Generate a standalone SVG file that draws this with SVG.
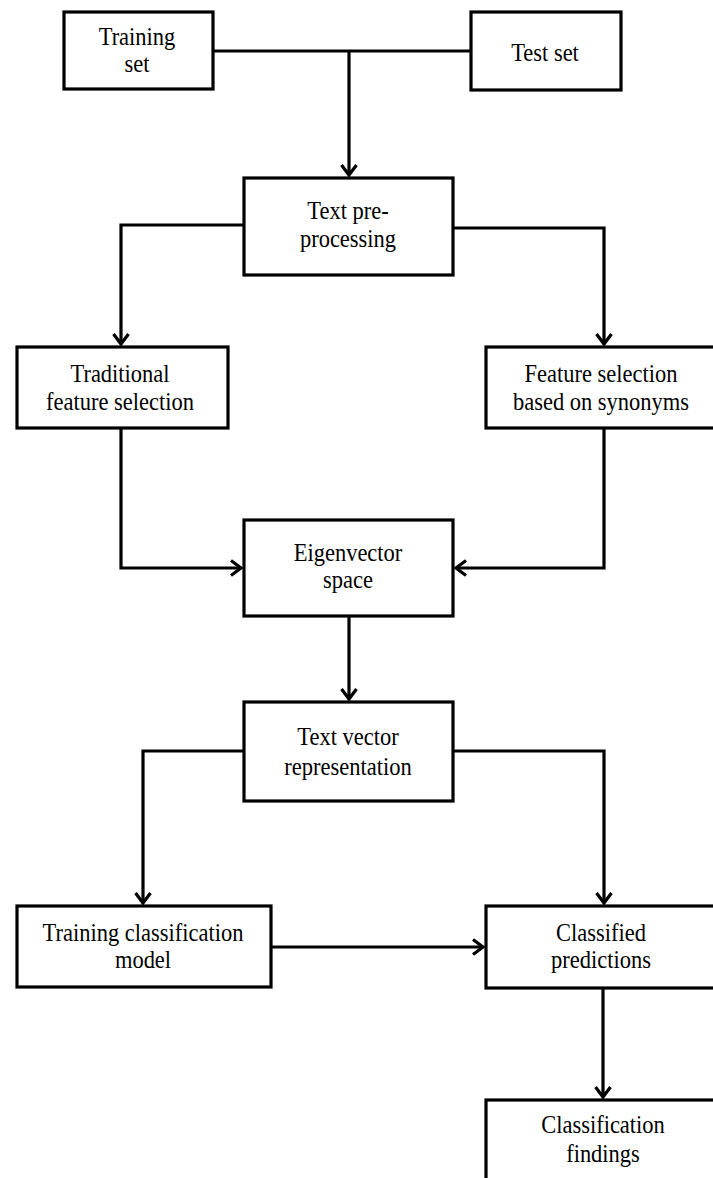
<svg xmlns="http://www.w3.org/2000/svg" width="713" height="1178" viewBox="0 0 713 1178">
<style>
.box{fill:#fff;stroke:#000;stroke-width:3.2}
.ln{fill:none;stroke:#000;stroke-width:3.2;stroke-linejoin:miter}
.t{font-family:'Liberation Serif','Times New Roman',Times,serif;font-size:25px;fill:#000;text-anchor:middle}
</style>
<defs>
<marker id="ah" markerUnits="userSpaceOnUse" markerWidth="20" markerHeight="20" viewBox="-12 -10 14 20" refX="0" refY="0" orient="auto">
<path d="M-10,-7.5 L0,0 L-10,7.5" fill="none" stroke="#000" stroke-width="3.2"/>
</marker>
</defs>
<rect width="713" height="1178" fill="#fff"/>
<g id="connectors">
<path class="ln" d="M213,51 H471"/>
<path class="ln" d="M349,51 V175" marker-end="url(#ah)"/>
<path class="ln" d="M244,225 H121 V344" marker-end="url(#ah)"/>
<path class="ln" d="M453,228 H604 V344" marker-end="url(#ah)"/>
<path class="ln" d="M121,428 V568 H241" marker-end="url(#ah)"/>
<path class="ln" d="M604,428 V568 H456" marker-end="url(#ah)"/>
<path class="ln" d="M349,616 V699" marker-end="url(#ah)"/>
<path class="ln" d="M244,751 H143 V903" marker-end="url(#ah)"/>
<path class="ln" d="M453,751 H604 V903" marker-end="url(#ah)"/>
<path class="ln" d="M271,947 H483" marker-end="url(#ah)"/>
<path class="ln" d="M603,988 V1097" marker-end="url(#ah)"/>
</g>
<g id="n-training-set">
<rect class="box" x="64" y="12" width="149" height="77"/>
<g transform="translate(137,0) scale(0.9,1)"><text class="t" x="0" y="45">Training</text><text class="t" x="0" y="72">set</text></g>
</g>
<g id="n-test-set">
<rect class="box" x="471" y="12" width="150" height="78"/>
<g transform="translate(545,0) scale(0.9,1)"><text class="t" x="0" y="61">Test set</text></g>
</g>
<g id="n-preprocessing">
<rect class="box" x="244" y="178" width="209" height="97"/>
<g transform="translate(348,0) scale(0.9,1)"><text class="t" x="0" y="219">Text pre-</text><text class="t" x="0" y="247">processing</text></g>
</g>
<g id="n-traditional">
<rect class="box" x="17" y="347" width="211" height="81"/>
<g transform="translate(120,0) scale(0.9,1)"><text class="t" x="0" y="382">Traditional</text><text class="t" x="0" y="410">feature selection</text></g>
</g>
<g id="n-synonyms">
<rect class="box" x="486" y="347" width="240" height="81"/>
<g transform="translate(601,0) scale(0.9,1)"><text class="t" x="0" y="382">Feature selection</text><text class="t" x="0" y="410">based on synonyms</text></g>
</g>
<g id="n-eigenvector">
<rect class="box" x="244" y="520" width="209" height="96"/>
<g transform="translate(348,0) scale(0.9,1)"><text class="t" x="0" y="561">Eigenvector</text><text class="t" x="0" y="588">space</text></g>
</g>
<g id="n-text-vector">
<rect class="box" x="244" y="702" width="209" height="99"/>
<g transform="translate(348,0) scale(0.9,1)"><text class="t" x="0" y="745">Text vector</text><text class="t" x="0" y="775">representation</text></g>
</g>
<g id="n-training-model">
<rect class="box" x="17" y="906" width="254" height="81"/>
<g transform="translate(143,0) scale(0.9,1)"><text class="t" x="0" y="941">Training classification</text><text class="t" x="0" y="968">model</text></g>
</g>
<g id="n-classified">
<rect class="box" x="486" y="906" width="240" height="82"/>
<g transform="translate(601,0) scale(0.9,1)"><text class="t" x="0" y="941">Classified</text><text class="t" x="0" y="968">predictions</text></g>
</g>
<g id="n-findings">
<rect class="box" x="486" y="1100" width="240" height="100"/>
<g transform="translate(603,0) scale(0.9,1)"><text class="t" x="0" y="1133">Classification</text><text class="t" x="0" y="1162">findings</text></g>
</g>
</svg>
